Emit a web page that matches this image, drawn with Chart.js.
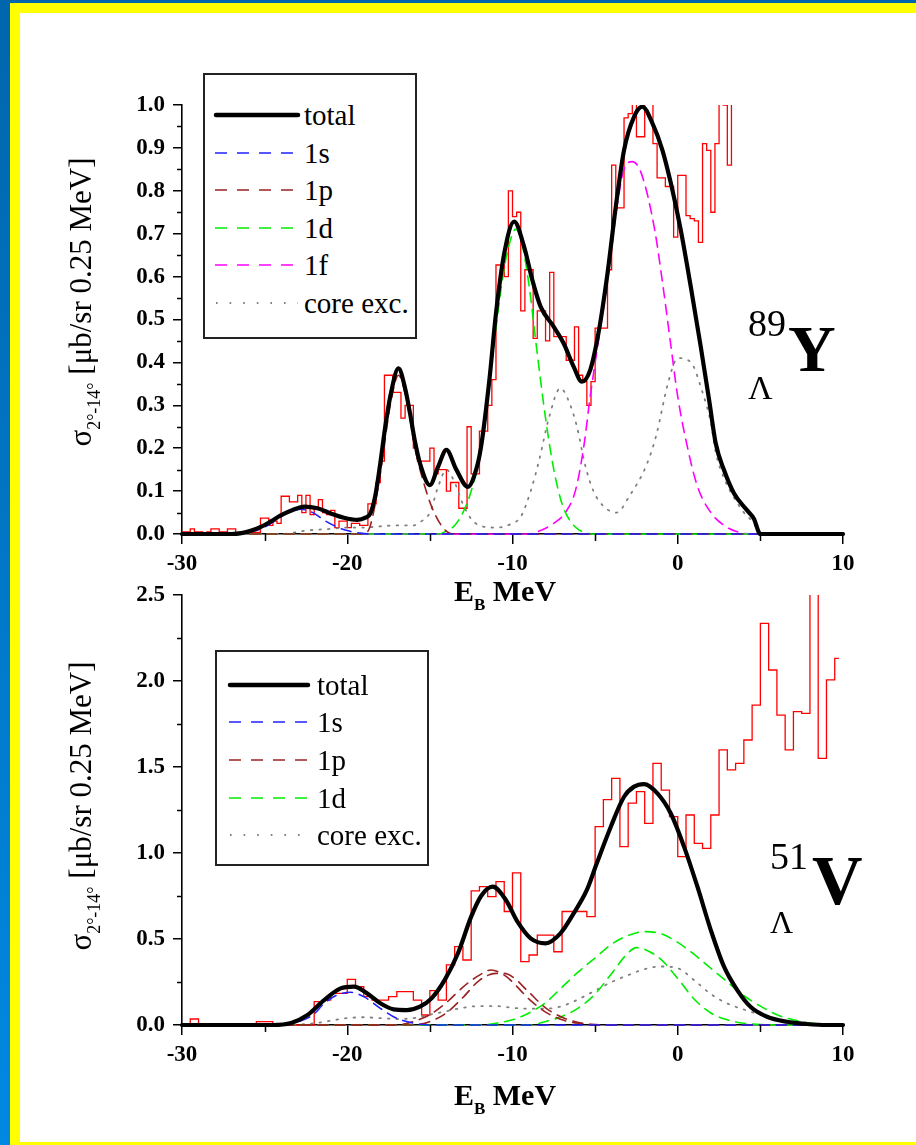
<!DOCTYPE html>
<html><head><meta charset="utf-8">
<script src="https://cdn.jsdelivr.net/npm/chart.js@4/dist/chart.umd.min.js"></script>
<style>
html,body{margin:0;padding:0;background:#fff;}
#page{position:relative;width:916px;height:1145px;overflow:hidden;background:#fff;font-family:'Liberation Serif','Times New Roman',serif;color:#000;}
.abs{position:absolute;white-space:nowrap;line-height:1;font-family:'Liberation Serif','Times New Roman',serif;}
canvas{position:absolute;left:0;top:0;}
.leg{font-size:29px;line-height:29px;}
.ytitle{font-size:31px;transform:translate(-50%,-50%) rotate(-90deg);}
.ytitle .sb{font-size:18px;position:relative;top:9px;}
.xtitle{font-size:30px;font-weight:bold;transform:translate(-50%,-50%);}
.xtitle .sb{font-size:17px;position:relative;top:9px;}
</style></head><body>
<div id="page">
  <div class="abs" style="left:0;top:0;width:10px;height:1145px;background:linear-gradient(#0066ad,#0089e2);"></div>
  <div class="abs" style="left:0;top:0;width:916px;height:3px;background:#0066ad;"></div>
  <div class="abs" style="left:10px;top:3px;width:10px;height:1142px;background:#ffff00;"></div>
  <div class="abs" style="left:10px;top:3px;width:906px;height:10px;background:#ffff00;"></div>
  <div class="abs" style="left:10px;top:1142px;width:906px;height:3px;background:#ffff00;"></div>

  <canvas id="cTop" width="916" height="1145" style="width:916px;height:1145px"></canvas>
  <canvas id="cBot" width="916" height="1145" style="width:916px;height:1145px"></canvas>

  <svg class="abs" width="916" height="1145" style="left:0;top:0;" xmlns="http://www.w3.org/2000/svg">
    <rect x="204" y="74" width="212" height="264" fill="#fff" stroke="#222" stroke-width="2"/>
    <line x1="216" y1="115" x2="298" y2="115" stroke="#000" stroke-width="4.5" stroke-linecap="round"/>
    <line x1="215" y1="153" x2="298" y2="153" stroke="#2020ff" stroke-width="1.6" stroke-dasharray="12 10"/>
    <line x1="215" y1="190" x2="298" y2="190" stroke="#992222" stroke-width="1.6" stroke-dasharray="12 10"/>
    <line x1="215" y1="228" x2="298" y2="228" stroke="#00ee00" stroke-width="1.6" stroke-dasharray="12 10"/>
    <line x1="215" y1="265" x2="298" y2="265" stroke="#ff00ff" stroke-width="1.6" stroke-dasharray="12 10"/>
    <line x1="216" y1="303" x2="298" y2="303" stroke="#808080" stroke-width="1.8" stroke-dasharray="1.6 12"/>

    <rect x="216" y="651" width="212" height="214" fill="#fff" stroke="#222" stroke-width="2"/>
    <line x1="230" y1="685" x2="308" y2="685" stroke="#000" stroke-width="4.5" stroke-linecap="round"/>
    <line x1="229" y1="722" x2="308" y2="722" stroke="#2020ff" stroke-width="1.6" stroke-dasharray="12 10"/>
    <line x1="229" y1="760" x2="308" y2="760" stroke="#992222" stroke-width="1.6" stroke-dasharray="12 10"/>
    <line x1="229" y1="798" x2="308" y2="798" stroke="#00ee00" stroke-width="1.6" stroke-dasharray="12 10"/>
    <line x1="230" y1="835" x2="308" y2="835" stroke="#808080" stroke-width="1.8" stroke-dasharray="1.6 12"/>
  </svg>

  <div class="abs leg" style="left:304px;top:101px;">total</div>
  <div class="abs leg" style="left:304px;top:139px;">1s</div>
  <div class="abs leg" style="left:304px;top:176px;">1p</div>
  <div class="abs leg" style="left:304px;top:214px;">1d</div>
  <div class="abs leg" style="left:304px;top:251px;">1f</div>
  <div class="abs leg" style="left:304px;top:289px;">core exc.</div>

  <div class="abs leg" style="left:317px;top:671px;">total</div>
  <div class="abs leg" style="left:317px;top:708px;">1s</div>
  <div class="abs leg" style="left:317px;top:746px;">1p</div>
  <div class="abs leg" style="left:317px;top:784px;">1d</div>
  <div class="abs leg" style="left:317px;top:821px;">core exc.</div>

  <div class="abs ytitle" style="left:80px;top:302px;">σ<span class="sb">2°-14°</span> [μb/sr 0.25 MeV]</div>
  <div class="abs ytitle" style="left:80px;top:806px;">σ<span class="sb">2°-14°</span> [μb/sr 0.25 MeV]</div>

  <div class="abs xtitle" style="left:505px;top:591px;">E<span class="sb">B</span> MeV</div>
  <div class="abs xtitle" style="left:505px;top:1095px;">E<span class="sb">B</span> MeV</div>

  <div class="abs" style="left:748px;top:304px;font-size:38px;">89</div>
  <div class="abs" style="left:788px;top:316px;font-size:66px;font-weight:bold;">Y</div>
  <div class="abs" style="left:748px;top:371px;font-size:34px;">Λ</div>

  <div class="abs" style="left:770px;top:837px;font-size:38px;">51</div>
  <div class="abs" style="left:812px;top:846px;font-size:70px;font-weight:bold;">V</div>
  <div class="abs" style="left:770px;top:906px;font-size:32px;">Λ</div>
</div>

<script>
// ---------------- axis / tick data ----------------
const xMin = -30, xMax = 10, xStep = 10;
const xMinorTicks = [-25, -15, -5, 5];
const topYMax = 1.0, topYStep = 0.1;
const topYMinorTicks = [0.05, 0.15, 0.25, 0.35, 0.45, 0.55, 0.65, 0.75, 0.85, 0.95];
const botYMax = 2.5, botYStep = 0.5;
const botYMinorTicks = [0.25, 0.75, 1.25, 1.75, 2.25];

// ---------------- 89ΛY (top) ----------------
const topHistStart = -30, topHistBin = 0.25;
const topHistCounts = [
  0.005, 0.005, 0.012, 0.005, 0.005, 0.0, 0.005, 0.012, 0.012, 0.005, 0.005, 0.012,
  0.012, 0.0, 0.004, 0.004, 0.004, 0.004, 0.004, 0.037,
  0.037, 0.02, 0.03, 0.025, 0.088, 0.088, 0.075, 0.075,
  0.09, 0.05, 0.09, 0.045, 0.06, 0.08, 0.05, 0.045,
  0.055, 0.015, 0.03, 0.03, 0.015, 0.025, 0.025, 0.02,
  0.02, 0.07, 0.07, 0.12, 0.17, 0.37, 0.37, 0.33,
  0.33, 0.27, 0.3, 0.3, 0.2, 0.17, 0.17, 0.17,
  0.2, 0.14, 0.15, 0.15, 0.1, 0.12, 0.12, 0.06,
  0.06, 0.25, 0.14, 0.14, 0.24, 0.24, 0.3, 0.36,
  0.627, 0.627, 0.6, 0.8, 0.74, 0.75, 0.52, 0.616,
  0.616, 0.456, 0.52, 0.52, 0.45, 0.61, 0.46, 0.46,
  0.46, 0.405, 0.405, 0.483, 0.37, 0.355, 0.3, 0.355,
  0.48, 0.48, 0.48, 0.616, 0.86, 0.76, 0.76, 0.97,
  0.98, 1.05, 0.926, 0.926, 1.05, 1.05, 0.91, 0.83,
  0.83, 0.81, 0.81, 0.692, 0.836, 0.836, 0.742, 0.735,
  0.73, 0.68, 0.91, 0.894, 0.75, 0.91, 1.05, 1.0,
  0.86, 1.05
];
const topTotalE = [-30, -27, -26.4, -25.8, -25.2, -24.6, -24.0, -23.3, -22.6, -21.8, -21.0, -20.2, -19.4, -18.9, -18.6, -18.3, -18.0, -17.7, -17.4, -16.9, -16.5, -16.2, -15.9, -15.6, -15.0, -14.5, -14.0, -13.4, -12.7, -12.2, -11.9, -11.4, -11.0, -10.5, -9.9, -9.3, -8.8, -8.3, -7.5, -6.9, -6.3, -5.8, -5.3, -4.8, -4.25, -3.75, -3.25, -2.64, -2.14, -1.53, -0.93, -0.42, 0.18, 0.79, 1.39, 1.9, 2.3, 2.8, 3.4, 4.2, 4.6, 5.0, 10];
const topTotalV = [0, 0, 0.002, 0.008, 0.017, 0.03, 0.044, 0.056, 0.064, 0.06, 0.048, 0.038, 0.033, 0.038, 0.048, 0.09, 0.165, 0.25, 0.32, 0.386, 0.34, 0.281, 0.215, 0.165, 0.114, 0.157, 0.196, 0.15, 0.11, 0.15, 0.204, 0.359, 0.514, 0.654, 0.728, 0.67, 0.592, 0.53, 0.483, 0.444, 0.39, 0.355, 0.382, 0.468, 0.608, 0.763, 0.895, 0.973, 0.996, 0.957, 0.895, 0.818, 0.709, 0.576, 0.437, 0.312, 0.211, 0.149, 0.095, 0.055, 0.036, 0, 0];
const top1sE = [-30, -26.5, -26, -25.2, -24.4, -23.6, -22.8, -22.0, -21.4, -20.6, -20.0, -19.2, -18.5, 10];
const top1sV = [0, 0, 0.003, 0.012, 0.03, 0.05, 0.058, 0.048, 0.032, 0.016, 0.008, 0.002, 0, 0];
const top1pE = [-30, -19.0, -18.6, -18.0, -17.4, -16.9, -16.4, -15.9, -15.3, -14.8, -14.1, -13.5, 10];
const top1pV = [0, 0, 0.02, 0.14, 0.30, 0.37, 0.31, 0.2, 0.11, 0.055, 0.01, 0, 0];
const top1dE = [-30, -14.5, -14.0, -13.5, -13.0, -12.5, -12.0, -11.5, -11.0, -10.5, -10.0, -9.8, -9.5, -9.0, -8.5, -8.0, -7.5, -7.0, -6.5, -6.0, -5.5, -5.0, 10];
const top1dV = [0, 0, 0.007, 0.02, 0.05, 0.1, 0.18, 0.32, 0.48, 0.62, 0.70, 0.71, 0.69, 0.58, 0.42, 0.27, 0.15, 0.07, 0.03, 0.01, 0.002, 0, 0];
const top1fE = [-30, -9.0, -8.5, -7.5, -6.8, -6.2, -5.7, -5.3, -4.8, -4.25, -3.65, -3.25, -2.75, -2.2, -1.4, -0.83, -0.42, 0.0, 0.6, 1.2, 2.0, 2.8, 3.6, 4.5, 10];
const top1fV = [0, 0, 0.005, 0.025, 0.05, 0.1, 0.2, 0.32, 0.45, 0.59, 0.77, 0.85, 0.868, 0.84, 0.71, 0.56, 0.44, 0.32, 0.2, 0.11, 0.05, 0.02, 0.005, 0, 0];
const topCoreE = [-30, -24, -22.5, -21, -20, -19, -18, -17, -16, -15.5, -15.0, -14.5, -14.0, -13.5, -13.0, -12.5, -12.0, -11.0, -10.0, -9.5, -8.9, -8.4, -7.8, -7.1, -6.6, -6.1, -5.6, -5.1, -4.5, -3.7, -2.9, -1.9, -1.3, -0.6, 0.0, 0.8, 1.5, 2.0, 2.3, 2.8, 3.4, 4.0, 4.6, 5.0, 10];
const topCoreV = [0, 0, 0.008, 0.012, 0.015, 0.015, 0.018, 0.02, 0.02, 0.03, 0.05, 0.11, 0.15, 0.12, 0.07, 0.035, 0.02, 0.015, 0.025, 0.04, 0.1, 0.17, 0.27, 0.34, 0.31, 0.25, 0.16, 0.1, 0.065, 0.05, 0.09, 0.16, 0.23, 0.35, 0.41, 0.40, 0.33, 0.26, 0.19, 0.13, 0.085, 0.05, 0.025, 0, 0];

// ---------------- 51ΛV (bottom) ----------------
const botHistStart = -30, botHistBin = 0.5, botHistEnd = 9.75;
const botHistCounts = [
  0, 0.035, 0, 0, 0, 0.006, 0.006, 0.006,
  0, 0.02, 0.02, 0, 0, 0, 0, 0,
  0.136, 0.145, 0.184, 0.184, 0.265, 0.223, 0.165, 0.145,
  0.145, 0.165, 0.194, 0.194, 0.145, 0.058, 0.2, 0.145,
  0.349, 0.456, 0.378, 0.78, 0.804, 0.746, 0.834, 0.66,
  0.885, 0.368, 0.407, 0.523, 0.523, 0.426, 0.66, 0.66,
  0.66, 0.63, 1.153, 1.31, 1.434, 1.037, 1.29, 1.357,
  1.172, 1.521, 1.366, 1.211, 0.979, 1.221, 1.056, 1.027,
  1.221, 1.599, 1.483, 1.521, 1.657, 1.86, 2.335, 2.064,
  1.802, 1.599, 1.822, 1.812, 2.7, 1.55, 2.006, 2.132
];
const botTotalE = [-30, -24.5, -23.4, -22.4, -21.4, -20.4, -19.6, -18.8, -18.0, -17.2, -16.4, -15.6, -14.9, -14.1, -13.3, -12.5, -11.9, -11.2, -10.4, -9.7, -8.9, -8.0, -7.1, -6.3, -5.5, -4.9, -4.05, -3.25, -2.64, -2.04, -1.23, -0.42, 0.38, 1.19, 2.0, 2.8, 3.6, 4.4, 5.4, 6.6, 7.8, 9.0, 10];
const botTotalV = [0, 0, 0.012, 0.058, 0.145, 0.213, 0.223, 0.184, 0.126, 0.091, 0.087, 0.107, 0.155, 0.262, 0.417, 0.63, 0.75, 0.804, 0.727, 0.601, 0.504, 0.475, 0.533, 0.649, 0.785, 0.94, 1.153, 1.327, 1.386, 1.401, 1.347, 1.23, 1.037, 0.804, 0.552, 0.339, 0.203, 0.106, 0.048, 0.019, 0.006, 0.0, 0];
const bot1sE = [-30, -24.5, -24, -23, -22.4, -22, -21.4, -20.6, -19.8, -19.0, -18.0, -17.2, -16.4, -15.6, -15.0, 10];
const bot1sV = [0, 0, 0.003, 0.018, 0.04, 0.065, 0.125, 0.175, 0.19, 0.165, 0.097, 0.048, 0.02, 0.004, 0, 0];
const bot1pAE = [-30, -17, -16, -15, -14, -13, -12, -11.3, -10.5, -10, -9.5, -9, -8.5, -8, -7, -6, -5, -4, 10];
const bot1pAV = [0, 0, 0.02, 0.06, 0.13, 0.22, 0.29, 0.32, 0.29, 0.25, 0.2, 0.15, 0.11, 0.075, 0.03, 0.01, 0.003, 0, 0];
const bot1pBE = [-30, -16, -15, -14, -13, -12, -11, -10.5, -10, -9, -8, -7, -6, -5, 10];
const bot1pBV = [0, 0, 0.02, 0.07, 0.16, 0.26, 0.3, 0.3, 0.28, 0.19, 0.1, 0.045, 0.015, 0, 0];
const bot1dAE = [-30, -12, -11, -10, -9, -8, -7, -6, -5, -4, -3, -2, -1, 0, 1, 2, 3, 4, 5, 6, 7, 8, 9, 10];
const bot1dAV = [0, 0, 0.01, 0.03, 0.07, 0.13, 0.22, 0.31, 0.39, 0.47, 0.52, 0.543, 0.53, 0.48, 0.41, 0.33, 0.25, 0.17, 0.11, 0.06, 0.03, 0.012, 0.004, 0];
const bot1dBE = [-30, -9, -8, -7, -6, -5, -4, -3, -2.5, -2, -1, 0, 1, 2, 3, 4, 5, 6, 10];
const bot1dBV = [0, 0, 0.02, 0.05, 0.1, 0.18, 0.3, 0.42, 0.45, 0.44, 0.38, 0.27, 0.15, 0.07, 0.03, 0.01, 0.003, 0, 0];
const botCoreE = [-30, -24, -22, -21, -20, -19, -18, -17, -16, -15, -14, -13, -12, -11, -10, -9, -8, -7, -6, -5, -4, -3, -2, -1, 0, 1, 2, 3, 4, 5, 6, 7, 8, 9, 10];
const botCoreV = [0, 0, 0.01, 0.025, 0.04, 0.045, 0.04, 0.035, 0.04, 0.06, 0.08, 0.1, 0.11, 0.11, 0.1, 0.095, 0.095, 0.11, 0.15, 0.2, 0.25, 0.29, 0.325, 0.34, 0.33, 0.26, 0.18, 0.125, 0.09, 0.06, 0.035, 0.015, 0.005, 0.001, 0];

// ---------------- helpers ----------------
const COL = {total:'#000000', s:'#2020ff', p:'#992222', d:'#00ee00', f:'#ff00ff', core:'#808080', hist:'#ff0000'};
const DASH = [10, 7], DOT = [1.6, 7];
const CLIP = {left: 4, top: 0, right: 4, bottom: 4};

function pts(xs, ys) { return xs.map((x, i) => ({x: x, y: ys[i]})); }
function histPts(start, w, vals, end) {
  const p = vals.map((v, i) => ({x: start + i * w, y: v}));
  if (end !== undefined) p.push({x: end, y: vals[vals.length - 1]});
  return p;
}
function curve(label, data, color, dash, width, order) {
  return {label, data, borderColor: color, backgroundColor: color, borderWidth: width,
    borderDash: dash, pointRadius: 0, fill: false, cubicInterpolationMode: 'monotone',
    borderCapStyle: 'round', borderJoinStyle: 'round', order, clip: CLIP};
}
function hist(data) {
  return {label: 'data', data, borderColor: COL.hist, borderWidth: 1.3, pointRadius: 0,
    fill: false, stepped: true, tension: 0, order: 20, clip: CLIP};
}

const minorTicksPlugin = {
  id: 'minorTicks',
  afterDraw(chart, args, opts) {
    const ctx = chart.ctx, xs = chart.scales.x, ys = chart.scales.y;
    ctx.save();
    ctx.strokeStyle = '#000'; ctx.lineWidth = 1.5;
    ctx.beginPath();
    (opts.x || []).forEach(v => {
      const p = Math.round(xs.getPixelForValue(v)) + 0.5;
      ctx.moveTo(p, ys.bottom); ctx.lineTo(p, ys.bottom + opts.xLen);
    });
    (opts.y || []).forEach(v => {
      const p = Math.round(ys.getPixelForValue(v)) + 0.5;
      ctx.moveTo(xs.left, p); ctx.lineTo(xs.left - opts.yLen, p);
    });
    ctx.stroke();
    ctx.restore();
  }
};

const tickFont = {family: "'Liberation Serif','Times New Roman',serif", weight: 'bold', size: 23};

function makeChart(id, datasets, yMax, yStep, yMinor, target) {
  const chart = new Chart(document.getElementById(id), {
    type: 'line',
    data: {datasets},
    options: {
      responsive: false, animation: false, events: [], devicePixelRatio: 1,
      layout: {padding: {left: 100, top: target.top - 10, right: 916 - target.right, bottom: 1145 - target.bottom - 45}},
      plugins: {legend: {display: false}, tooltip: {enabled: false},
        minorTicks: {x: xMinorTicks, y: yMinor, xLen: 7, yLen: 5}},
      scales: {
        x: {type: 'linear', min: xMin, max: xMax, position: 'bottom',
          grid: {display: true, drawOnChartArea: false, drawTicks: true, tickLength: 10, tickWidth: 1.5, tickColor: '#000', color: '#000', lineWidth: 1.5},
          border: {display: true, color: '#000', width: 1.6},
          ticks: {stepSize: xStep, color: '#000', font: tickFont, padding: 6, maxRotation: 0, autoSkip: false,
            callback: v => String(v)}},
        y: {type: 'linear', min: 0, max: yMax,
          grid: {display: true, drawOnChartArea: false, drawTicks: true, tickLength: 9, tickWidth: 1.5, tickColor: '#000', color: '#000', lineWidth: 1.5},
          border: {display: true, color: '#000', width: 1.6},
          ticks: {stepSize: yStep, color: '#000', font: tickFont, padding: 8, autoSkip: false,
            callback: v => Number(v).toFixed(1)}}
      }
    },
    plugins: [minorTicksPlugin]
  });
  for (let k = 0; k < 3; k++) {
    const ca = chart.chartArea, p = chart.options.layout.padding;
    p.left += target.left - ca.left;
    p.top += target.top - ca.top;
    p.right += ca.right - target.right;
    p.bottom += ca.bottom - target.bottom;
    chart.update('none');
  }
  return chart;
}

makeChart('cTop', [
  curve('total', pts(topTotalE, topTotalV), COL.total, [], 4.2, 0),
  curve('1s', pts(top1sE, top1sV), COL.s, DASH, 1.6, 2),
  curve('1p', pts(top1pE, top1pV), COL.p, DASH, 1.6, 3),
  curve('1d', pts(top1dE, top1dV), COL.d, DASH, 1.6, 4),
  curve('1f', pts(top1fE, top1fV), COL.f, DASH, 1.6, 5),
  curve('core exc.', pts(topCoreE, topCoreV), COL.core, DOT, 1.8, 6),
  hist(histPts(topHistStart, topHistBin, topHistCounts))
], topYMax, topYStep, topYMinorTicks, {left: 182, right: 843, top: 105, bottom: 534});

makeChart('cBot', [
  curve('total', pts(botTotalE, botTotalV), COL.total, [], 4.2, 0),
  curve('1s', pts(bot1sE, bot1sV), COL.s, DASH, 1.6, 2),
  curve('1p', pts(bot1pAE, bot1pAV), COL.p, DASH, 1.6, 3),
  curve('1p', pts(bot1pBE, bot1pBV), COL.p, DASH, 1.6, 3),
  curve('1d', pts(bot1dAE, bot1dAV), COL.d, DASH, 1.6, 4),
  curve('1d', pts(bot1dBE, bot1dBV), COL.d, DASH, 1.6, 4),
  curve('core exc.', pts(botCoreE, botCoreV), COL.core, DOT, 1.8, 6),
  hist(histPts(botHistStart, botHistBin, botHistCounts, botHistEnd))
], botYMax, botYStep, botYMinorTicks, {left: 182, right: 843, top: 595, bottom: 1025});
</script>
</body></html>
